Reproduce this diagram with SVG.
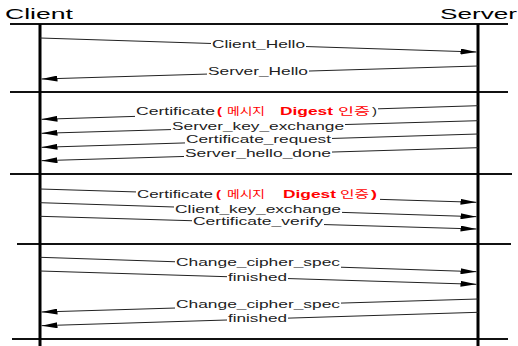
<svg xmlns="http://www.w3.org/2000/svg" width="518" height="346" viewBox="0 0 518 346">
  <style>
    .title { font-family: "Liberation Sans", Arial, sans-serif; font-size: 15px; fill: #000; }
    .lbl { font-family: "Liberation Sans", Arial, sans-serif; font-size: 10.5px; fill: #222; }
    .red { font-family: "Liberation Sans", "Noto Sans CJK KR", sans-serif; font-size: 10.5px; fill: #f00; }
    .b { font-weight: bold; }
    .life { stroke: #000; stroke-width: 3; }
    .sep { stroke: #111; stroke-width: 2; }
    .msg { stroke: #222; stroke-width: 1; fill: none; }
    .arr { marker-end: url(#ah); }
    .mask { fill: #fff; }
  </style>
  <defs>
    <marker id="ah" markerWidth="16" markerHeight="6" refX="16" refY="3" orient="auto" markerUnits="userSpaceOnUse">
      <path d="M0,0 L16,3 L0,6 z" fill="#000"/>
    </marker>
  </defs>
  <rect width="518" height="346" fill="#fff"/>

  <!-- phase separators -->
  <g id="separators">
    <line class="sep" x1="10" y1="24" x2="508" y2="24"/>
    <line class="sep" x1="10" y1="92" x2="508" y2="92"/>
    <line class="sep" x1="10" y1="174" x2="512" y2="174"/>
    <line class="sep" x1="17" y1="244" x2="511" y2="244"/>
    <line class="sep" x1="12" y1="339" x2="508" y2="339"/>
  </g>

  <!-- participants -->
  <g id="client">
    <text class="title" x="5" y="19" textLength="68" lengthAdjust="spacingAndGlyphs">Client</text>
    <line class="life" x1="40" y1="24" x2="40" y2="346"/>
  </g>
  <g id="server">
    <text class="title" x="440" y="18.5" textLength="77" lengthAdjust="spacingAndGlyphs">Server</text>
    <line class="life" x1="478" y1="24" x2="478" y2="346"/>
  </g>

  <!-- messages -->
  <g id="connectors">
    <!-- hello exchange -->
    <line class="msg arr" x1="40" y1="38" x2="476.5" y2="52"/>
    <rect class="mask" x="211" y="39" width="95" height="11"/>
    <text class="lbl" x="212" y="47.5" textLength="93" lengthAdjust="spacingAndGlyphs">Client_Hello</text>

    <line class="msg arr" x1="478" y1="66" x2="41.5" y2="79"/>
    <rect class="mask" x="207" y="66.5" width="102" height="11"/>
    <text class="lbl" x="208" y="75" textLength="100" lengthAdjust="spacingAndGlyphs">Server_Hello</text>

    <!-- server certificate phase -->
    <line class="msg arr" x1="478" y1="105.7" x2="41.5" y2="119.3"/>
    <rect class="mask" x="135" y="106.5" width="243" height="11.5"/>
    <text class="lbl" x="136" y="115" textLength="79" lengthAdjust="spacingAndGlyphs">Certificate</text>
    <text class="red b" x="217" y="115" textLength="5" lengthAdjust="spacingAndGlyphs">(</text>
    <text class="red" x="227" y="115" textLength="38" lengthAdjust="spacingAndGlyphs">메시지</text>
    <text class="red b" x="280" y="115" textLength="53" lengthAdjust="spacingAndGlyphs">Digest</text>
    <text class="red" x="338" y="115" textLength="32" lengthAdjust="spacingAndGlyphs">인증</text>
    <text class="lbl" x="372" y="115" textLength="5" lengthAdjust="spacingAndGlyphs">)</text>

    <line class="msg arr" x1="478" y1="120.7" x2="41.5" y2="133.3"/>
    <rect class="mask" x="171" y="121" width="174" height="11"/>
    <text class="lbl" x="172" y="129.5" textLength="172" lengthAdjust="spacingAndGlyphs">Server_key_exchange</text>

    <line class="msg arr" x1="478" y1="134" x2="41.5" y2="147.3"/>
    <rect class="mask" x="185" y="134.7" width="147" height="11"/>
    <text class="lbl" x="186" y="143.2" textLength="145" lengthAdjust="spacingAndGlyphs">Certificate_request</text>

    <line class="msg arr" x1="478" y1="147.7" x2="41.5" y2="160.7"/>
    <rect class="mask" x="184" y="148.2" width="148" height="11"/>
    <text class="lbl" x="185" y="156.7" textLength="146" lengthAdjust="spacingAndGlyphs">Server_hello_done</text>

    <!-- client key phase -->
    <line class="msg arr" x1="40" y1="189" x2="476.5" y2="202.3"/>
    <rect class="mask" x="136" y="189.7" width="244" height="11.5"/>
    <text class="lbl" x="137" y="198.2" textLength="76" lengthAdjust="spacingAndGlyphs">Certificate</text>
    <text class="red b" x="216" y="198.2" textLength="5" lengthAdjust="spacingAndGlyphs">(</text>
    <text class="red" x="227" y="198.2" textLength="38" lengthAdjust="spacingAndGlyphs">메시지</text>
    <text class="red b" x="283" y="198.2" textLength="53" lengthAdjust="spacingAndGlyphs">Digest</text>
    <text class="red" x="340" y="198.2" textLength="29" lengthAdjust="spacingAndGlyphs">인증</text>
    <text class="red b" x="371" y="198.2" textLength="6" lengthAdjust="spacingAndGlyphs">)</text>

    <line class="msg arr" x1="40" y1="202.7" x2="476.5" y2="216.7"/>
    <rect class="mask" x="174" y="204" width="168" height="11"/>
    <text class="lbl" x="175" y="212.5" textLength="166" lengthAdjust="spacingAndGlyphs">Client_key_exchange</text>

    <line class="msg arr" x1="40" y1="216.3" x2="476.5" y2="229"/>
    <rect class="mask" x="192" y="216.7" width="132" height="11"/>
    <text class="lbl" x="193" y="225.2" textLength="130" lengthAdjust="spacingAndGlyphs">Certificate_verify</text>

    <!-- cipher change -->
    <line class="msg arr" x1="40" y1="257.3" x2="476.5" y2="271.7"/>
    <rect class="mask" x="175" y="257.5" width="166" height="11"/>
    <text class="lbl" x="176" y="266" textLength="164" lengthAdjust="spacingAndGlyphs">Change_cipher_spec</text>

    <line class="msg arr" x1="40" y1="271" x2="476.5" y2="284.3"/>
    <rect class="mask" x="227" y="272" width="61" height="11"/>
    <text class="lbl" x="228" y="280.5" textLength="59" lengthAdjust="spacingAndGlyphs">finished</text>

    <line class="msg arr" x1="478" y1="299" x2="41.5" y2="312"/>
    <rect class="mask" x="175" y="299.5" width="166" height="11"/>
    <text class="lbl" x="176" y="308" textLength="164" lengthAdjust="spacingAndGlyphs">Change_cipher_spec</text>

    <line class="msg arr" x1="478" y1="312.3" x2="41.5" y2="325.7"/>
    <rect class="mask" x="227" y="313" width="61" height="11"/>
    <text class="lbl" x="228" y="321.5" textLength="59" lengthAdjust="spacingAndGlyphs">finished</text>
  </g>
</svg>
